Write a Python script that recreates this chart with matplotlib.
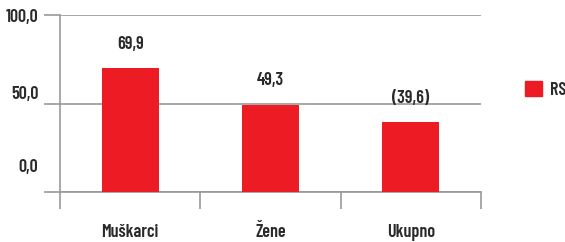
import numpy as np
import matplotlib.pyplot as plt
import matplotlib.transforms as mtransforms
from matplotlib.patches import Patch

categories = ['Muškarci', 'Žene', 'Ukupno']
values = [69.9, 49.3, 39.6]
value_labels = ['69,9', '49,3', '(39,6)']
yticks = [0, 50, 100]
ytick_labels = ['0,0', '50,0', '100,0']
series_name = 'RS'

red = '#ED1C24'
grid_c = '#999999'
txt_c = '#2a2a2a'
plt.rcParams['font.family'] = ['Barlow Condensed', 'DejaVu Sans']
plt.rcParams['font.weight'] = 'semibold'
fs = 13

fig = plt.figure(figsize=(5.65, 2.42), dpi=100)
ax = fig.add_axes([60 / 565, 1 - 192 / 242, 421 / 565, 177 / 242])

x = np.arange(len(categories))
bars = ax.bar(x, values, width=0.405, color=red, zorder=3)
for b, lab in zip(bars, value_labels):
    ax.annotate(lab, (b.get_x() + b.get_width() / 2, b.get_height()),
                xytext=(0, 11), textcoords='offset points', ha='center', va='bottom',
                fontsize=fs, color=txt_c)

ax.set_xlim(-0.5, len(categories) - 0.5)
ax.set_ylim(0, 100)

# horizontal grid lines that also run out left as ticks
ax.set_yticks(yticks)
ax.set_yticklabels(ytick_labels, fontsize=fs, color=txt_c)
ax.yaxis.grid(True, color=grid_c, lw=1.2, zorder=0)
ax.tick_params(axis='y', length=11.5, width=1.2, color=grid_c, pad=4)
# the labels sit a bit above their lines in the original
for lbl, dy in zip(ax.get_yticklabels(), [27, 11, 0]):
    lbl.set_transform(lbl.get_transform() + mtransforms.ScaledTranslation(0, dy / 100, fig.dpi_scale_trans))

# category separators below the baseline
ax.set_xticks(x)
ax.set_xticklabels(categories, fontsize=fs, color=txt_c)
ax.tick_params(axis='x', which='major', length=0, pad=23)
ax.set_xticks(np.arange(-0.5, len(categories)), minor=True)
ax.tick_params(axis='x', which='minor', length=12, width=1.2, color=grid_c)

for s in ['top', 'right']:
    ax.spines[s].set_visible(False)
for s in ['left', 'bottom']:
    ax.spines[s].set_color(grid_c)
    ax.spines[s].set_linewidth(1.2)
ax.spines['left'].set_zorder(4)

fig.legend(handles=[Patch(color=red, label=series_name)], loc='center left',
           bbox_to_anchor=(525 / 565, 1 - 90 / 242), frameon=False, fontsize=fs,
           handlelength=0.95, handleheight=0.85, handletextpad=0.45, borderpad=0,
           borderaxespad=0, labelcolor=txt_c)

fig.savefig('out.png', dpi=100)
